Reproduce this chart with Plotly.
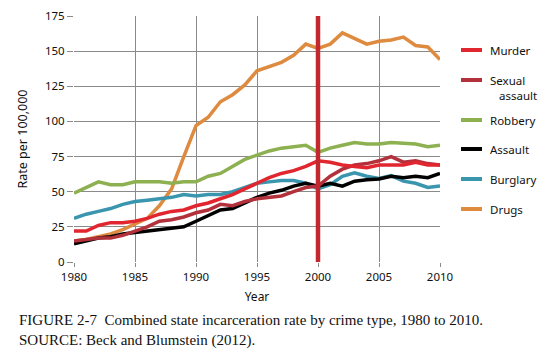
import plotly.graph_objects as go

years = list(range(1980, 2011))

murder = [22, 22, 26, 28, 28, 29, 31, 34, 36, 37, 40, 42, 45, 48, 52, 56, 60, 63, 65, 68,
          72, 71, 69, 68, 67, 69, 69, 69, 71, 69, 69]
sexual_assault = [15, 16, 17, 17, 19, 22, 25, 29, 30, 32, 35, 37, 41, 40, 43, 45, 46, 47, 50, 53,
                  54, 61, 66, 69, 70, 72, 75, 71, 72, 70, 69]
robbery = [49, 53, 57, 55, 55, 57, 57, 57, 56, 57, 57, 61, 63, 68, 73, 76, 79, 81, 82, 83,
           78, 81, 83, 85, 84, 84, 85, 84.5, 84, 82, 83]
assault = [13, 15, 17, 18, 20, 21, 22, 23, 24, 25, 29, 33, 37, 38, 42, 46, 49, 51, 54, 56,
           54, 56, 54, 57.5, 58.5, 59, 61, 60, 61, 60, 63]
burglary = [31, 34, 36, 38, 41, 43, 44, 45, 46, 48, 47, 48, 48, 50, 53, 56, 57, 58, 58, 56,
            52, 55, 61, 63.5, 61, 59.5, 61.5, 57.5, 56, 53, 54]
drugs = [15, 16, 18, 20, 23, 27, 31, 40, 52, 75, 97, 103, 114, 119, 126, 136, 139, 142, 147, 155,
         152, 155, 163, 159, 155, 157, 158, 160, 154, 153, 144]

series_names = ["Murder", "Sexual assault", "Robbery", "Assault", "Burglary", "Drugs"]
legend_labels = ["Murder", "Sexual<br>   assault", "Robbery", "Assault", "Burglary", "Drugs"]
series_values = [murder, sexual_assault, robbery, assault, burglary, drugs]
colors = ["#E1262F", "#B3313A", "#8DB050", "#000000", "#3A95AE", "#DE8A3F"]

y_ticks = [0, 25, 50, 75, 100, 125, 150, 175]
x_ticks = [1980, 1985, 1990, 1995, 2000, 2005, 2010]
marker_year = 2000

# plot-area geometry in pixels (used for the hand-built legend)
PL, PT, PW, PH = 74, 16, 366, 246


def px_x(x):
    return (x - PL) / PW


def px_y(y):
    return (PT + PH - y) / PH


fig = go.Figure()

# draw order: drugs underneath, murder on top
order = [5, 2, 4, 3, 1, 0]
for i in order:
    fig.add_trace(go.Scatter(
        x=years, y=series_values[i], mode="lines", name=series_names[i],
        line=dict(color=colors[i], width=3.5), showlegend=False,
    ))

fig.add_vline(x=marker_year, line=dict(color="#C4282F", width=4.5), layer="above")

# legend on the right
legend_y = [50, 80, 120, 149, 179, 209]
for lbl, col, yy in zip(legend_labels, colors, legend_y):
    fig.add_shape(type="line", xref="paper", yref="paper",
                  x0=px_x(461), x1=px_x(482), y0=px_y(yy), y1=px_y(yy),
                  line=dict(color=col, width=4))
    fig.add_annotation(text=lbl, xref="paper", yref="paper",
                       x=px_x(488), y=px_y(yy - 9),
                       xanchor="left", yanchor="top", showarrow=False, align="left",
                       font=dict(family="Noto Sans, sans-serif", size=11.5, color="#111"))

# caption
fig.add_annotation(
    text="FIGURE 2-7  Combined state incarceration rate by crime type, 1980 to 2010.<br>"
         "SOURCE: Beck and Blumstein (2012).",
    xref="paper", yref="paper", x=px_x(17), y=px_y(310),
    xanchor="left", yanchor="top", showarrow=False, align="left",
    font=dict(family="Liberation Serif, serif", size=15, color="#111"),
)

fig.update_xaxes(
    range=[1980, 2010], tickvals=x_ticks, showgrid=True, gridcolor="#8a8a8a", gridwidth=1,
    zeroline=False, showline=False, ticks="outside", ticklen=4, tickcolor="#8a8a8a",
    automargin=False,
    tickfont=dict(family="Noto Sans, sans-serif", size=11.5, color="#111"),
    title=dict(text="Year", font=dict(family="Noto Sans, sans-serif", size=12, color="#111"),
               standoff=9),
)
fig.update_yaxes(
    range=[0, 175], tickvals=y_ticks, showgrid=True, gridcolor="#8a8a8a", gridwidth=1,
    zeroline=False, showline=False, ticks="outside", ticklen=6, tickcolor="#8a8a8a",
    automargin=False,
    tickfont=dict(family="Noto Sans, sans-serif", size=11.5, color="#111"),
    title=dict(text="Rate per 100,000",
               font=dict(family="Noto Sans, sans-serif", size=12.5, color="#111"), standoff=14),
)

fig.update_layout(
    width=541, height=349,
    margin=dict(l=PL, r=541 - PL - PW, t=PT, b=349 - PT - PH),
    paper_bgcolor="white", plot_bgcolor="white",
    showlegend=False,
)

fig.write_html("out.html")
